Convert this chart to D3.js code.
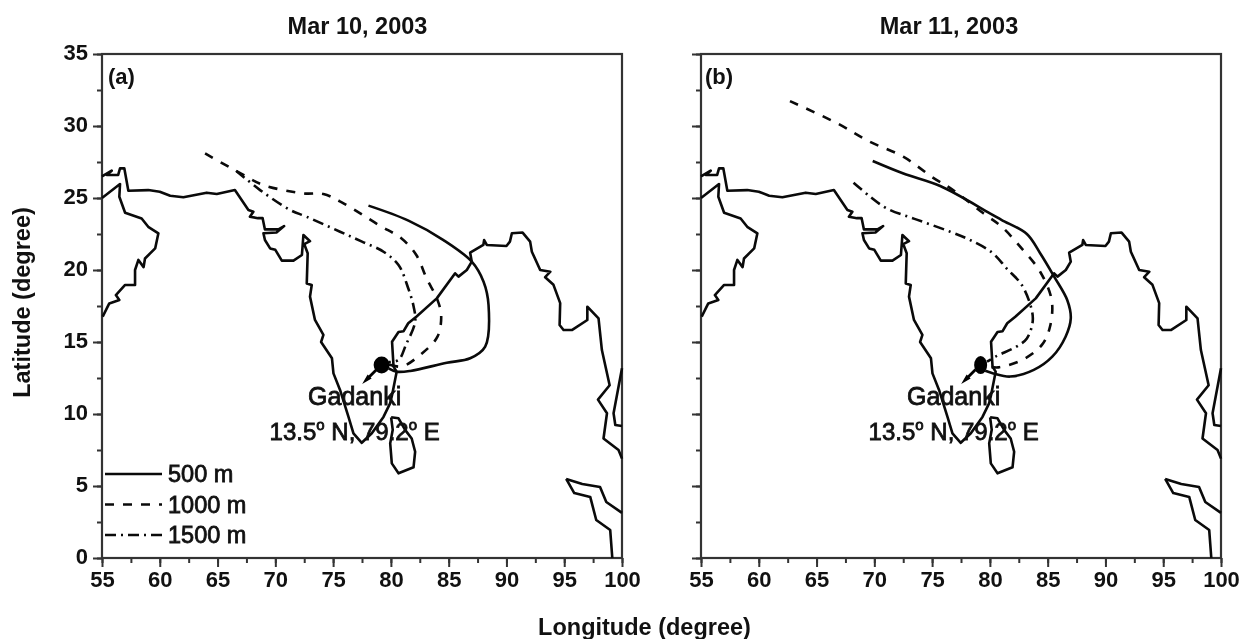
<!DOCTYPE html>
<html><head><meta charset="utf-8">
<script src="https://cdn.jsdelivr.net/npm/d3@7/dist/d3.min.js"></script>
<style>html,body{margin:0;padding:0;background:#fff}svg{display:block;filter:blur(0.45px)}
text{font-family:"Liberation Sans",Arial,sans-serif;fill:#111}</style></head><body>
<svg id="c" width="1242" height="639"></svg>
<script>
const panelTitles=["Mar 10, 2003","Mar 11, 2003"];
const panelTags=["(a)","(b)"];
const xTicks=[55,60,65,70,75,80,85,90,95,100];
const yTicks=[0,5,10,15,20,25,30,35];
const seriesNames=["500 m","1000 m","1500 m"];
const site=[79.2,13.5];
const coastNorth=[[55,26.5],[55.84,26.9],[55.4,26.6],[56.4,26.6],[56.56,27.06],[56.93,27.06],[57.28,25.5],[59,25.55],[60,25.44],[60.9,25.16],[62.04,25.05],[64.06,25.37],[64.93,25.28],[66.5,25.55],[67.67,24.17],[68.1,24.05],[67.8,23.7],[68.5,23.6],[68.9,23.6],[69.1,22.82],[70.27,22.82],[70.76,23.05],[70.1,22.6],[68.97,22.55],[69.1,22.08],[69.55,21.5],[70,21.4],[70.56,20.65],[71.57,20.65],[72.3,21.04],[72.43,22.43],[73,22],[72.5,21.8],[72.8,21.16],[72.72,19.07],[73.15,18.96],[73,18.15],[73.43,16.53],[74.16,15.49],[73.96,15],[74.9,13.87],[75.03,12.82],[75.6,11.67],[76.33,9.8],[76.76,8.66],[77.48,8],[78.35,8.66],[79.36,9.8],[79.93,10.74],[80.1,11.3],[80.5,12.94],[80.23,13.29],[80.1,15.02],[80.66,15.7],[81.1,15.75],[81.5,16.3],[82.2,16.76],[83.97,18.03],[85.56,19.77],[85.85,19.54],[86.57,20],[87,20.58],[86.86,21.2],[88,21.74],[88.07,22.08],[88.3,21.74],[90,21.67],[90.3,21.97],[90.47,22.55],[91.4,22.6],[92.05,21.97],[92.2,21.27],[92.92,20],[93.8,19.88],[93.35,19.5],[94.07,18.97],[94.65,17.7],[94.6,16.18],[94.94,15.83],[95.66,15.83],[97,16.53],[97,17.45],[97.97,16.64],[98.26,14.44],[98.93,12],[97.92,11],[98.7,10.05],[98.4,8.3],[99.7,7.5],[100,6.9]];
const coastArabia=[[55,25],[56.56,25.97],[56.5,25.09],[57,23.98],[58.43,23.58],[59,23],[59.88,22.55],[59.6,21.5],[58.72,20.8],[58.6,20.2],[58.15,20.7],[57.86,20],[57.86,18.96],[57,18.96],[56.2,18.26],[56.5,17.92],[55.63,17.68],[55.06,16.76]];
const coastMalay=[[100,13.17],[99.27,10.05],[99.42,9.24],[100,9.17]];
const coastSriLanka=[[80.02,9.77],[80.66,9.7],[81.23,8.9],[81.8,8.3],[82.1,7.38],[81.96,6.3],[80.66,5.88],[80.08,6.57],[79.94,7.96],[80.16,8.9],[80.02,9.77]];
const coastSumatraN=[[95.17,5.49],[96.56,5.14],[98.1,4.93],[98.64,3.89],[100,3.13]];
const coastSumatraS=[[95.17,5.49],[95.87,4.51],[97.25,4.24],[97.77,2.64],[98.98,1.94],[99.16,0]];
const traj500a=[[78.06,24.47],[81.52,23.43],[84.55,22.08],[87,20.58],[88.02,19.19],[88.45,17.57],[88.16,14.68],[86.86,13.87],[84.84,13.56],[81.67,12.99],[80.5,12.94],[79.8,13.17]];
const traj1000a=[[63.92,28.1],[67.24,26.6],[68.97,25.9],[72.43,25.32],[74.16,25.28],[75.9,24.63],[79,23.1],[80.9,22.2],[82.2,21.04],[83.1,19.4],[83.98,18.03],[84.35,16.87],[84.03,15.37],[82.68,14.2],[80.95,13.3],[79.8,13.45]];
const traj1500a=[[66.6,26.9],[68.68,25.55],[71.28,24.17],[72.7,23.7],[75.6,22.66],[77.5,21.97],[79.36,21.27],[80.66,20.35],[81.5,18.73],[81.97,17.45],[82.1,16.4],[81.3,14.8],[80.66,13.75],[79.8,13.6]];
const traj500b=[[69.86,27.57],[72.52,26.7],[75.7,25.83],[80,23.94],[81.03,23.47],[83.2,22.5],[84.35,21.16],[85.56,19.54],[86.7,17.9],[87,16.64],[86.55,15.37],[85.4,13.98],[83.8,13.06],[81.75,12.6],[80.3,12.82],[79.6,13]];
const traj1000b=[[62.7,31.73],[66.75,30.2],[69.63,28.9],[72.5,27.87],[75.1,26.4],[76.6,25.67],[79.44,23.94],[81.03,23],[82.75,21.5],[84.35,19.88],[85.35,17.9],[85.2,16.06],[84.5,14.8],[82.9,13.8],[80.74,13.24],[79.8,13.3]];
const traj1500b=[[68.2,26.06],[69.63,25.1],[71.07,24.28],[73.67,23.5],[76.56,22.66],[78.3,22.08],[80.2,21.2],[81.46,20.1],[82.76,18.96],[83.6,17.3],[83.7,16.4],[83.2,15.25],[82.3,14.68],[80.6,14.03],[79.75,13.63]];

const coasts=[coastNorth,coastArabia,coastMalay,coastSriLanka,coastSumatraN,coastSumatraS];
const dashes=[null,"9,9","11,5,2,5"];
const panels=[{x0:102,titleX:357.5,tagX:108,rx:8,ry:8.5,traj:[traj500a,traj1000a,traj1500a]},{x0:701,titleX:949,tagX:705,rx:6.5,ry:9,traj:[traj500b,traj1000b,traj1500b]}];
const W=520,plotTop=54,plotBottom=558,axisColor="#333",ink="#0a0a0a";
const svg=d3.select("#c");
const y=d3.scaleLinear().domain([0,35]).range([plotBottom,plotTop]);
const minorX=d3.range(55,100.1,2.5),minorY=d3.range(0,35.1,2.5);

panels.forEach((p,i)=>{
  const x=d3.scaleLinear().domain([55,100]).range([p.x0,p.x0+W]);
  const g=svg.append("g");
  const line=d3.line().x(d=>x(d[0])).y(d=>y(d[1]));
  const smooth=d3.line().x(d=>x(d[0])).y(d=>y(d[1])).curve(d3.curveCatmullRom.alpha(0.5));
  g.append("g").attr("transform",`translate(0,${plotBottom})`).call(d3.axisBottom(x).tickValues(minorX).tickSize(5).tickFormat(""));
  g.append("g").attr("transform",`translate(${p.x0},0)`).call(d3.axisLeft(y).tickValues(minorY).tickSize(5).tickFormat(""));
  const ax=g.append("g").attr("class","lab").attr("transform",`translate(0,${plotBottom})`).call(d3.axisBottom(x).tickValues(xTicks).tickSize(9).tickPadding(4).tickFormat(d3.format("d")));
  const ay=g.append("g").attr("class","lab").attr("transform",`translate(${p.x0},0)`).call(d3.axisLeft(y).tickValues(yTicks).tickSize(9).tickPadding(5).tickFormat(i===0?d3.format("d"):""));
  ay.selectAll("text").attr("dy","0.25em");
  g.selectAll(".lab text").style("font-size","22px").style("font-weight","700").style("font-family",'"Liberation Sans",Arial,sans-serif');
  g.selectAll(".domain").remove();
  g.selectAll(".tick line").attr("stroke",axisColor).attr("stroke-width",2);
  g.append("rect").attr("x",p.x0).attr("y",plotTop).attr("width",W).attr("height",plotBottom-plotTop).attr("fill","none").attr("stroke",axisColor).attr("stroke-width",2.2);
  coasts.forEach(c=>g.append("path").attr("d",line(c)).attr("fill","none").attr("stroke",ink).attr("stroke-width",2.6).attr("stroke-linejoin","round"));
  p.traj.forEach((t,k)=>{
    const pa=g.append("path").attr("d",smooth(t)).attr("fill","none").attr("stroke",ink).attr("stroke-width",2.6);
    if(dashes[k])pa.attr("stroke-dasharray",dashes[k]);
  });
  const cx=x(site[0]),cy=y(site[1]);
  g.append("ellipse").attr("cx",cx).attr("cy",cy+1.5).attr("rx",p.rx).attr("ry",p.ry).attr("fill","#000");
  g.append("line").attr("x1",cx-5).attr("y1",cy+6).attr("x2",cx-15).attr("y2",cy+16).attr("stroke","#000").attr("stroke-width",2.8);
  g.append("path").attr("d",d3.line()([[cx-19.5,cy+20.5],[cx-14,cy+11],[cx-10,cy+15]])).attr("fill","#000");
  g.append("text").attr("x",p.tagX).attr("y",84).attr("font-size",22).attr("font-weight",700).text(panelTags[i]);
  g.append("text").attr("x",cx-27).attr("y",405).attr("text-anchor","middle").attr("font-size",25).attr("stroke","#111").attr("stroke-width",0.8).text("Gadanki");
  const t=g.append("text").attr("x",cx-27).attr("y",440).attr("text-anchor","middle").attr("font-size",24).attr("stroke","#111").attr("stroke-width",0.8);
  t.append("tspan").text("13.5");
  t.append("tspan").attr("dy",-10).attr("font-size",15).text("o");
  t.append("tspan").attr("dy",10).text(" N, 79.2");
  t.append("tspan").attr("dy",-10).attr("font-size",15).text("o");
  t.append("tspan").attr("dy",10).text(" E");
  g.append("text").attr("x",p.titleX).attr("y",34).attr("text-anchor","middle").attr("font-size",23.5).attr("font-weight",700).text(panelTitles[i]);
  if(i===0){
    seriesNames.forEach((n,k)=>{
      const ly=474+k*30.5;
      const l=g.append("line").attr("x1",105).attr("x2",162).attr("y1",ly).attr("y2",ly).attr("stroke",ink).attr("stroke-width",2.4);
      if(dashes[k])l.attr("stroke-dasharray",dashes[k]);
      g.append("text").attr("x",168).attr("y",ly+8).attr("font-size",23.5).attr("stroke","#111").attr("stroke-width",0.8).text(n);
    });
  }
});
svg.append("text").attr("x",644.5).attr("y",635).attr("text-anchor","middle").attr("font-size",23.5).attr("font-weight",700).text("Longitude (degree)");
svg.append("text").attr("transform","translate(30,302.5) rotate(-90)").attr("text-anchor","middle").attr("font-size",23.5).attr("font-weight",700).text("Latitude (degree)");
</script></body></html>
